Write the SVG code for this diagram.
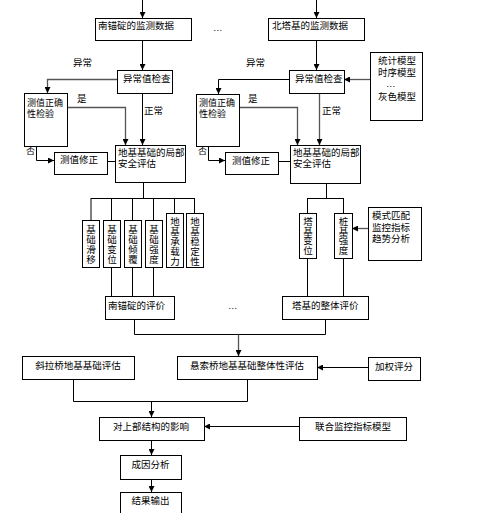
<svg xmlns="http://www.w3.org/2000/svg" width="490" height="513" viewBox="0 0 490 513">
<defs>
<marker id="ah" markerWidth="6" markerHeight="6" refX="6" refY="3" orient="auto" markerUnits="userSpaceOnUse"><path d="M0,0 L6,3 L0,6 z" fill="#000"/></marker>
<style>
.b{fill:#fff;stroke:#000;stroke-width:1}
.t{font-family:"Liberation Sans","Noto Sans CJK SC",sans-serif;font-size:9.5px;fill:#000}
.s{font-size:9px}
.m{text-anchor:middle}
.c path{fill:none;stroke:#000;stroke-width:1}
.c path.g{stroke:#555;stroke-width:1.3}
.c path.a{marker-end:url(#ah)}
</style>
</defs>
<rect width="490" height="513" fill="#fff"/>
<g class="c" id="connectors">
<path class="a" d="M142.5,0 V18"/>
<path class="a" d="M142.5,40 V70"/>
<path class="a g" d="M117,79.5 H47.5 V93"/>
<path class="a g" d="M67,107.5 H125.5 V145"/>
<path class="a" d="M142.5,93 V145"/>
<path class="a" d="M36.5,146 V160.5 H54"/>
<path d="M107,161.5 H115"/>
<path d="M143.5,182 V198.5 M91,198.5 H195 M91,198 V220 M111.5,198 V220 M132.5,198 V220 M153.5,198 V220 M174.5,198 V213 M194.5,198 V213"/>
<path d="M111.5,267 V296 M132.5,267 V296 M153.5,267 V296"/>
<path class="a" d="M316.5,0 V18"/>
<path class="a" d="M316.5,40 V70"/>
<path d="M289,79.5 H218.5 V94" class="a"/>
<path class="a g" d="M239,107.5 H297.5 V145"/>
<path class="a g" d="M319.5,93 V145"/>
<path class="a" d="M208.5,146 V160.5 H225"/>
<path d="M278,161.5 H290"/>
<path class="a g" d="M370,79.5 H344"/>
<path d="M326.5,183 V198.5 M307.5,198.5 H343.5 M307.5,198 V213 M343.5,198 V213"/>
<path class="a g" d="M368,228.5 H352"/>
<path d="M307.5,258 V296 M343.5,258 V296"/>
<path d="M134.5,319 V334.5 H325.5 V319"/>
<path class="a g" d="M238.5,334.5 V356"/>
<path class="a" d="M368,367.5 H317"/>
<path d="M73.5,379 V401.5 H247.5 V379"/>
<path class="a" d="M151.5,401.5 V417"/>
<path class="a" d="M299,426.5 H204"/>
<path class="a" d="M151.5,440 V455"/>
<path class="a" d="M151.5,479 V492"/>
</g>
<g id="labels">
<text class="t" x="73" y="66">异常</text>
<text class="t" x="77" y="102">是</text>
<text class="t" x="144" y="114">正常</text>
<text class="t s" x="26" y="154">否</text>
<text class="t" x="246" y="66">异常</text>
<text class="t" x="248" y="102">是</text>
<text class="t" x="322" y="114">正常</text>
<text class="t s" x="198" y="154">否</text>
<text class="t" x="213" y="31">…</text>
<text class="t" x="228" y="309">…</text>
</g>
<g id="n_nmd"><rect class="b" x="95.5" y="18.5" width="96" height="22"/><text class="t" x="98" y="28.5">南锚碇的监测数据</text></g>
<g id="n_yc1"><rect class="b" x="117.5" y="70.5" width="55" height="23"/><text class="t" x="123" y="81.5">异常值检查</text></g>
<g id="n_zq1"><rect class="b" x="24.5" y="93.5" width="43" height="53"/><text class="t s" x="27" y="105.5">测值正确</text><text class="t s" x="27" y="116.5">性检验</text></g>
<g id="n_xz1"><rect class="b" x="54.5" y="152.5" width="53" height="22"/><text class="t" x="60" y="163">测值修正</text></g>
<g id="n_jb1"><rect class="b" x="115.5" y="145.5" width="70" height="37"/><text class="t" x="118" y="156">地基基础的局部</text><text class="t" x="118" y="167">安全评估</text></g>
<g id="n_v1"><rect class="b" x="82.5" y="220.5" width="17" height="47"/><text class="t m" x="91" y="233">基<tspan x="91" dy="10">础</tspan><tspan x="91" dy="10">滑</tspan><tspan x="91" dy="10">移</tspan></text></g>
<g id="n_v2"><rect class="b" x="103.5" y="220.5" width="17" height="47"/><text class="t m" x="112" y="233">基<tspan x="112" dy="10">础</tspan><tspan x="112" dy="10">变</tspan><tspan x="112" dy="10">位</tspan></text></g>
<g id="n_v3"><rect class="b" x="124.5" y="220.5" width="17" height="47"/><text class="t m" x="133" y="233">基<tspan x="133" dy="10">础</tspan><tspan x="133" dy="10">倾</tspan><tspan x="133" dy="10">覆</tspan></text></g>
<g id="n_v4"><rect class="b" x="145.5" y="220.5" width="17" height="47"/><text class="t m" x="154" y="233">基<tspan x="154" dy="10">础</tspan><tspan x="154" dy="10">强</tspan><tspan x="154" dy="10">度</tspan></text></g>
<g id="n_v5"><rect class="b" x="166.5" y="213.5" width="17" height="54"/><text class="t m" x="175" y="225">地<tspan x="175" dy="10">基</tspan><tspan x="175" dy="10">承</tspan><tspan x="175" dy="10">载</tspan><tspan x="175" dy="10">力</tspan></text></g>
<g id="n_v6"><rect class="b" x="186.5" y="213.5" width="17" height="54"/><text class="t m" x="195" y="225">地<tspan x="195" dy="10">基</tspan><tspan x="195" dy="10">稳</tspan><tspan x="195" dy="10">定</tspan><tspan x="195" dy="10">性</tspan></text></g>
<g id="n_nmpj"><rect class="b" x="105.5" y="296.5" width="69" height="23"/><text class="t" x="108" y="308.5">南锚碇的评价</text></g>
<g id="n_btd"><rect class="b" x="268.5" y="18.5" width="96" height="22"/><text class="t" x="272" y="28.5">北塔基的监测数据</text></g>
<g id="n_yc2"><rect class="b" x="289.5" y="70.5" width="55" height="23"/><text class="t" x="295" y="81.5">异常值检查</text></g>
<g id="n_mx"><rect class="b" x="370.5" y="52.5" width="52" height="68"/><text class="t" x="378" y="63.5">统计模型</text><text class="t" x="378" y="75.5">时序模型</text><text class="t" x="386" y="87">…</text><text class="t" x="378" y="99.5">灰色模型</text></g>
<g id="n_zq2"><rect class="b" x="196.5" y="94.5" width="43" height="52"/><text class="t s" x="199" y="105.5">测值正确</text><text class="t s" x="199" y="116.5">性检验</text></g>
<g id="n_xz2"><rect class="b" x="225.5" y="152.5" width="53" height="22"/><text class="t" x="232" y="163.5">测值修正</text></g>
<g id="n_jb2"><rect class="b" x="290.5" y="145.5" width="70" height="38"/><text class="t" x="293" y="156">地基基础的局部</text><text class="t" x="293" y="167">安全评估</text></g>
<g id="n_tj"><rect class="b" x="299.5" y="213.5" width="17" height="45"/><text class="t m" x="308" y="225">塔<tspan x="308" dy="9.5">基</tspan><tspan x="308" dy="9.5">变</tspan><tspan x="308" dy="9.5">位</tspan></text></g>
<g id="n_zj"><rect class="b" x="334.5" y="213.5" width="18" height="45"/><text class="t m" x="343.5" y="225">桩<tspan x="343.5" dy="9.5">基</tspan><tspan x="343.5" dy="9.5">强</tspan><tspan x="343.5" dy="9.5">度</tspan></text></g>
<g id="n_ms"><rect class="b" x="368.5" y="207.5" width="53" height="53"/><text class="t" x="372" y="218.5">模式匹配</text><text class="t" x="372" y="230.5">监控指标</text><text class="t" x="372" y="242">趋势分析</text></g>
<g id="n_tjpj"><rect class="b" x="282.5" y="296.5" width="86" height="23"/><text class="t" x="292" y="308.5">塔基的整体评价</text></g>
<g id="n_xl"><rect class="b" x="22.5" y="356.5" width="112" height="23"/><text class="t m" x="78" y="368.5">斜拉桥地基基础评估</text></g>
<g id="n_xs"><rect class="b" x="177.5" y="356.5" width="140" height="23"/><text class="t m" x="247" y="368.5">悬索桥地基基础整体性评估</text></g>
<g id="n_jq"><rect class="b" x="368.5" y="357.5" width="52" height="23"/><text class="t m" x="394" y="369.5">加权评分</text></g>
<g id="n_ds"><rect class="b" x="99.5" y="417.5" width="105" height="23"/><text class="t m" x="151" y="429.5">对上部结构的影响</text></g>
<g id="n_lh"><rect class="b" x="299.5" y="417.5" width="107" height="23"/><text class="t m" x="353" y="429.5">联合监控指标模型</text></g>
<g id="n_cy"><rect class="b" x="120.5" y="455.5" width="61" height="24"/><text class="t m" x="150.5" y="467.5">成因分析</text></g>
<g id="n_jg"><rect class="b" x="120.5" y="492.5" width="61" height="30"/><text class="t m" x="150.5" y="504">结果输出</text></g>
</svg>
